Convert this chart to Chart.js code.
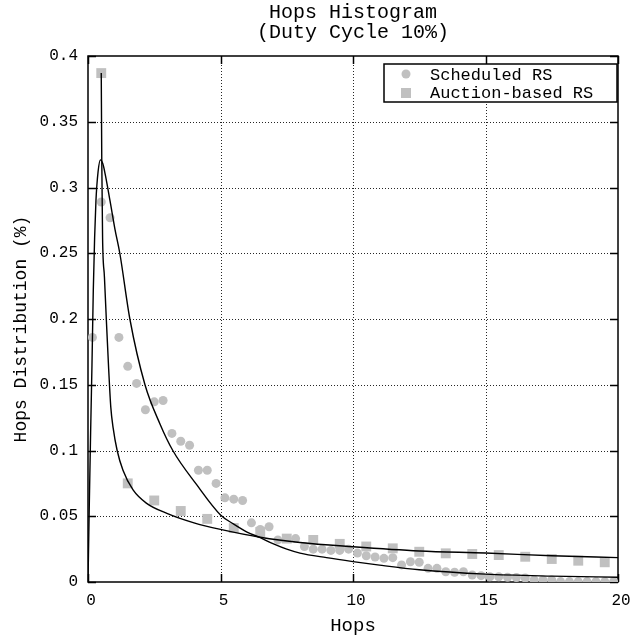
<!DOCTYPE html>
<html lang="en">
<head>
<meta charset="UTF-8">
<title>Hops Histogram</title>
<script src="https://cdn.jsdelivr.net/npm/chart.js"></script>
<style>
  body { margin: 0; background: #fff; }
  #grafico { display: block; }
</style>
</head>
<body>
<canvas id="grafico" width="634" height="637"></canvas>
<script>
// ticks
var xTicks = [0, 5, 10, 15, 20]
var yTicks = [0, 0.05, 0.1, 0.15, 0.2, 0.25, 0.3, 0.35, 0.4]

// Scheduled RS (circles), one every 1/3 hop
var schedX = [0.167, 0.5, 0.833, 1.167, 1.5, 1.833, 2.167, 2.5, 2.833, 3.167,
  3.5, 3.833, 4.167, 4.5, 4.833, 5.167, 5.5, 5.833, 6.167, 6.5,
  6.833, 7.167, 7.5, 7.833, 8.167, 8.5, 8.833, 9.167, 9.5, 9.833,
  10.167, 10.5, 10.833, 11.167, 11.5, 11.833, 12.167, 12.5, 12.833, 13.167,
  13.5, 13.833, 14.167, 14.5, 14.833, 15.167, 15.5, 15.833, 16.167, 16.5,
  16.833, 17.167, 17.5, 17.833, 18.167, 18.5, 18.833, 19.167, 19.5, 19.833]
var schedY = [0.186, 0.289, 0.277, 0.186, 0.164, 0.151, 0.131, 0.137, 0.138, 0.113,
  0.107, 0.104, 0.085, 0.085, 0.075, 0.064, 0.063, 0.062, 0.045, 0.040,
  0.042, 0.032, 0.033, 0.033, 0.027, 0.025, 0.025, 0.024, 0.024, 0.025,
  0.022, 0.020, 0.019, 0.018, 0.0185, 0.013, 0.0154, 0.015, 0.0104, 0.0104,
  0.0078, 0.0074, 0.0078, 0.0053, 0.0048, 0.004, 0.004, 0.0036, 0.0034, 0.003,
  0.0015, 0.0015, 0.0015, 0.0003, 0.0003, 0.0003, 0.0003, 0.0003, 0.0003, 0.0003]

// Auction-based RS (squares), one every hop
var auctX = [0.5, 1.5, 2.5, 3.5, 4.5, 5.5, 6.5, 7.5, 8.5, 9.5,
  10.5, 11.5, 12.5, 13.5, 14.5, 15.5, 16.5, 17.5, 18.5, 19.5]
var auctY = [0.387, 0.075, 0.062, 0.054, 0.048, 0.041, 0.038, 0.033, 0.032, 0.029,
  0.027, 0.0256, 0.023, 0.0218, 0.0213, 0.0205, 0.0192, 0.0175, 0.0162, 0.015]

// fitted curves
var fitSchedX = [0, 0.05, 0.1, 0.15, 0.2, 0.25, 0.3, 0.38, 0.47, 0.56, 0.65, 0.83, 1.02, 1.2, 1.58,
  2.15, 2.72, 3.2, 4.1, 5, 5.5, 6, 6.5, 7, 7.5, 8, 9, 10, 11, 12.5, 15, 17.5, 20]
var fitSchedY = [0, 0.06, 0.115, 0.165, 0.222, 0.262, 0.29, 0.312, 0.321, 0.318, 0.31, 0.29, 0.268, 0.25, 0.2,
  0.15, 0.12, 0.1, 0.074, 0.051, 0.044, 0.038, 0.0337, 0.029, 0.025, 0.022, 0.0185, 0.0155, 0.0128, 0.0093, 0.006, 0.0045, 0.0036]

var fitAuctX = [0.5, 0.52, 0.55, 0.62, 0.7, 0.78, 0.86, 0.95, 1.1, 1.32, 1.7, 2.2, 3, 4, 5, 6.5, 8, 10, 12.5, 15, 17.5, 20]
var fitAuctY = [0.387, 0.32, 0.262, 0.232, 0.196, 0.162, 0.133, 0.117, 0.1, 0.085, 0.070, 0.060, 0.052, 0.045, 0.040, 0.034, 0.030, 0.0268, 0.0236, 0.022, 0.020, 0.0185]

var cinza = 'rgb(192, 192, 192)'
var fonte = '"Liberation Mono", "DejaVu Sans Mono", monospace'

function pares(xs, ys) {
  return xs.map(function (v, i) { return { x: v, y: ys[i] } })
}

// border, dotted grid, inner ticks, titles and the boxed legend
var moldura = {
  id: 'moldura',
  beforeDatasetsDraw: function (chart) {
    var ctx = chart.ctx, a = chart.chartArea
    var sx = chart.scales.x, sy = chart.scales.y
    ctx.save()
    ctx.strokeStyle = 'rgba(0,0,0,0.85)'
    ctx.lineWidth = 1
    ctx.setLineDash([1, 2])
    xTicks.forEach(function (v) {
      if (v <= sx.min || v >= sx.max) return
      var px = Math.round(sx.getPixelForValue(v)) + 0.5
      ctx.beginPath(); ctx.moveTo(px, a.top); ctx.lineTo(px, a.bottom); ctx.stroke()
    })
    yTicks.forEach(function (v) {
      if (v <= sy.min || v >= sy.max) return
      var py = Math.round(sy.getPixelForValue(v)) + 0.5
      ctx.beginPath(); ctx.moveTo(a.left, py); ctx.lineTo(a.right, py); ctx.stroke()
    })
    ctx.setLineDash([])
    ctx.strokeStyle = '#000'
    ctx.lineWidth = 1.5
    xTicks.forEach(function (v) {
      var px = Math.round(sx.getPixelForValue(v)) + 0.5
      ctx.beginPath(); ctx.moveTo(px, a.bottom); ctx.lineTo(px, a.bottom - 8); ctx.stroke()
      ctx.beginPath(); ctx.moveTo(px, a.top); ctx.lineTo(px, a.top + 8); ctx.stroke()
    })
    yTicks.forEach(function (v) {
      var py = Math.round(sy.getPixelForValue(v)) + 0.5
      ctx.beginPath(); ctx.moveTo(a.left, py); ctx.lineTo(a.left + 8, py); ctx.stroke()
      ctx.beginPath(); ctx.moveTo(a.right, py); ctx.lineTo(a.right - 8, py); ctx.stroke()
    })
    ctx.strokeRect(a.left, a.top, a.right - a.left, a.bottom - a.top)
    ctx.restore()
  },
  afterDatasetsDraw: function (chart) {
    var ctx = chart.ctx, a = chart.chartArea
    ctx.save()
    // legend box
    var bx = 384, by = a.top + 8, bw = a.right - 1 - bx, bh = 38
    ctx.fillStyle = '#fff'
    ctx.fillRect(bx, by, bw, bh)
    ctx.strokeStyle = '#000'
    ctx.lineWidth = 1.5
    ctx.strokeRect(bx, by, bw, bh)
    ctx.fillStyle = cinza
    ctx.beginPath(); ctx.arc(406, by + 10, 4.5, 0, Math.PI * 2); ctx.fill()
    ctx.fillRect(401, by + 24, 10, 10)
    ctx.fillStyle = '#000'
    ctx.font = '17px ' + fonte
    ctx.textBaseline = 'middle'
    ctx.textAlign = 'left'
    ctx.fillText('Scheduled RS', 430, by + 11)
    ctx.fillText('Auction-based RS', 430, by + 29)
    ctx.restore()
  },
  afterDraw: function (chart) {
    var ctx = chart.ctx, a = chart.chartArea
    var meio = (a.left + a.right) / 2
    ctx.save()
    ctx.fillStyle = '#000'
    ctx.font = '20px ' + fonte
    ctx.textAlign = 'center'
    ctx.textBaseline = 'middle'
    ctx.fillText('Hops Histogram', meio, 13)
    ctx.fillText('(Duty Cycle 10%)', meio, 33)
    // y axis title, sits a little below the middle like the original
    ctx.translate(21, (a.top + a.bottom) / 2 + 10)
    ctx.rotate(-Math.PI / 2)
    ctx.font = '18px ' + fonte
    ctx.fillText('Hops Distribution (%)', 0, 0)
    ctx.restore()
  }
}

new Chart(document.getElementById('grafico'), {
  type: 'scatter',
  data: {
    datasets: [
      {
        label: 'fit scheduled',
        data: pares(fitSchedX, fitSchedY),
        showLine: true,
        borderColor: '#000',
        borderWidth: 1.4,
        pointRadius: 0,
        cubicInterpolationMode: 'monotone',
        order: 0
      },
      {
        label: 'fit auction',
        data: pares(fitAuctX, fitAuctY),
        showLine: true,
        borderColor: '#000',
        borderWidth: 1.4,
        pointRadius: 0,
        cubicInterpolationMode: 'monotone',
        order: 0
      },
      {
        label: 'Scheduled RS',
        data: pares(schedX, schedY),
        pointStyle: 'circle',
        pointRadius: 4.5,
        backgroundColor: cinza,
        borderWidth: 0,
        order: 1
      },
      {
        label: 'Auction-based RS',
        data: pares(auctX, auctY),
        pointStyle: 'rect',
        pointRadius: 7,
        backgroundColor: cinza,
        borderWidth: 0,
        order: 1
      }
    ]
  },
  options: {
    responsive: false,
    animation: false,
    layout: { padding: { top: 56, right: 16, left: 0, bottom: 0 } },
    plugins: {
      legend: { display: false },
      tooltip: { enabled: false }
    },
    scales: {
      x: {
        type: 'linear',
        min: 0,
        max: 20,
        afterBuildTicks: function (s) { s.ticks = xTicks.map(function (v) { return { value: v } }) },
        afterFit: function (s) { s.height = 55; s.paddingRight = 0; s.paddingLeft = 0 },
        grid: { display: false, drawTicks: false },
        border: { display: false },
        ticks: { color: '#000', padding: 9, labelOffset: 3, maxRotation: 0, font: { family: fonte, size: 16 } },
        title: { display: true, text: 'Hops', color: '#000', padding: { top: 0, bottom: 0 }, font: { family: fonte, size: 19 } }
      },
      y: {
        type: 'linear',
        min: 0,
        max: 0.4,
        afterBuildTicks: function (s) { s.ticks = yTicks.map(function (v) { return { value: v } }) },
        afterFit: function (s) { s.width = 88 },
        grid: { display: false, drawTicks: false },
        border: { display: false },
        ticks: { color: '#000', padding: 10, font: { family: fonte, size: 16 }, callback: function (v) { return String(v) } },
        title: { display: false }
      }
    }
  },
  plugins: [moldura]
})
</script>
</body>
</html>
